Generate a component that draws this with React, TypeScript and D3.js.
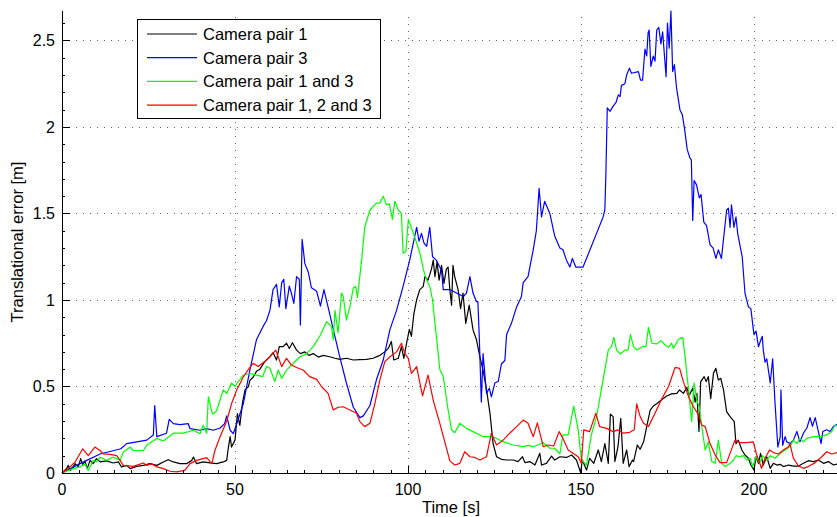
import React from 'react'
import * as d3 from 'd3'

const width = 837
const height = 517
const margin = { top: 11, right: 0, bottom: 44, left: 62 }

// tick values
const xTicks = [0, 50, 100, 150, 200]
const yTicks = [0, 0.5, 1, 1.5, 2, 2.5]
const xMax = 224
const yMax = 2.67

const seriesNames = ['Camera pair 1', 'Camera pair 3', 'Camera pair 1 and 3', 'Camera pair 1, 2 and 3']
const seriesColors = ['#000000', '#0000ff', '#00ff00', '#ff0000']

// [time s, error m]
const pair1 = [
  [0, 0], [1.3, 0.025], [1.8, 0.044], [2.5, 0.015], [3.8, 0.054], [4.7, 0.035], [5.4, 0.083], [6, 0.044], [6.6, 0.07], [7.3, 0.025],
  [8.1, 0.073], [9, 0.054], [10, 0.083], [11, 0.064], [12.9, 0.07], [14.8, 0.058], [16.3, 0.064], [17.2, 0.035], [18.7, 0.044], [19.7, 0.025],
  [21.6, 0.038], [23.5, 0.044], [25.4, 0.054], [27.4, 0.044], [29.3, 0.064], [30.7, 0.077], [32.2, 0.064], [34.1, 0.054], [36, 0.054],
  [37.5, 0.073], [38, 0.092], [38.9, 0.054], [40.8, 0.064], [42.8, 0.058], [44.7, 0.054], [46.6, 0.064], [47.6, 0.073], [48.1, 0.15],
  [48.6, 0.21], [49, 0.15], [50, 0.19], [50.7, 0.343], [51.4, 0.275], [52.2, 0.41], [52.9, 0.48], [53.9, 0.5], [54.3, 0.535], [55.3, 0.555],
  [56.3, 0.59], [57.2, 0.6], [58.6, 0.644], [60.1, 0.672], [61, 0.696], [62, 0.653], [62.8, 0.73], [63.9, 0.73], [64.9, 0.75], [65.7, 0.72],
  [66.6, 0.753], [67.8, 0.71], [68.9, 0.69], [70.2, 0.7], [71.4, 0.68], [72.6, 0.69], [74.1, 0.67], [75.5, 0.68], [77.4, 0.672], [78.9, 0.663],
  [80.3, 0.657], [82.2, 0.663], [84.2, 0.653], [86.1, 0.655], [88, 0.657], [89.9, 0.663], [91.9, 0.68], [93.3, 0.7], [94.3, 0.72], [95.2, 0.76],
  [95.9, 0.653], [97.2, 0.663], [98.1, 0.73], [98.8, 0.663], [99.6, 0.75], [100.4, 0.83], [101, 0.79], [101.7, 0.92], [102.5, 1.0],
  [103.4, 1.06], [104.4, 1.077], [104.9, 1.135], [105.8, 1.115], [106.8, 1.18], [107.3, 1.23], [107.8, 1.135], [108.4, 1.22], [109, 1.115],
  [109.7, 1.2], [110.4, 1.096], [111.1, 1.18], [111.6, 1.19], [112.1, 1.058], [112.6, 0.97], [113, 1.2], [113.5, 1.135], [114.5, 1.058],
  [115.2, 0.95], [115.9, 1.04], [116.7, 0.865], [117.7, 0.97], [118.8, 0.827], [119.8, 0.77], [120.8, 0.67], [121.7, 0.595], [122.7, 0.48],
  [123.7, 0.345], [124.6, 0.17], [125.6, 0.094], [127, 0.079], [128.5, 0.075], [130.4, 0.075], [131.8, 0.066], [133.1, 0.094], [133.8, 0.06],
  [135.2, 0.066], [136.7, 0.046], [138.1, 0.114], [138.6, 0.046], [140, 0.056], [141.5, 0.098], [142.4, 0.075], [143.9, 0.094], [145.8, 0.09],
  [147.3, 0.104], [148.7, 0.075], [149.9, 0.002], [150.4, 0.075], [151.6, 0.017], [152.5, 0.085], [153.7, 0.056], [155, 0.133], [155.9, 0.066],
  [156.9, 0.17], [157.9, 0.056], [158.5, 0.34], [159.3, 0.326], [159.8, 0.066], [160.7, 0.152], [161.5, 0.316], [162.2, 0.056], [163.2, 0.133],
  [163.9, 0.037], [164.9, 0.075], [165.2, 0.066], [166.3, 0.162], [167.1, 0.137], [168.1, 0.18], [169, 0.268], [170, 0.364], [170.9, 0.387],
  [171.9, 0.4], [173.4, 0.425], [174.8, 0.445], [176.2, 0.457], [177.7, 0.46], [178.5, 0.48], [179.6, 0.46], [180.6, 0.495], [181.3, 0.45],
  [182.3, 0.49], [183, 0.41], [183.5, 0.46], [184.1, 0.24], [184.6, 0.528], [185.6, 0.557], [186.2, 0.528], [186.8, 0.557], [187.5, 0.43],
  [188.3, 0.576], [189, 0.605], [189.7, 0.537], [190.4, 0.547], [191.2, 0.48], [192.1, 0.355], [193.1, 0.326], [194.3, 0.297], [194.8, 0.17],
  [195.5, 0.19], [196.5, 0.133], [197.4, 0.104], [198.4, 0.085], [199.1, 0.046], [200, 0.017], [200.6, 0.094], [201.3, 0.056], [201.9, 0.114],
  [202.7, 0.046], [203.7, 0.094], [204.7, 0.027], [205.6, 0.056], [206.6, 0.046], [207.6, 0.05], [208.5, 0.037], [210, 0.046], [211.4, 0.04],
  [212.9, 0.04], [214.3, 0.056], [215.7, 0.071], [217.2, 0.066], [218.6, 0.075], [220.1, 0.056], [221.5, 0.066], [223, 0.046], [224, 0.052],
]

const pair3 = [
  [0, 0], [5.2, 0.054], [11, 0.11], [17, 0.14], [18.7, 0.17], [24.5, 0.19], [26.4, 0.22], [26.8, 0.39], [27.4, 0.21], [30.2, 0.23], [31, 0.31],
  [32.2, 0.285], [34.1, 0.28], [36.5, 0.285], [37, 0.256], [39.9, 0.247], [41.8, 0.256], [43.7, 0.247], [45.7, 0.26], [47, 0.285], [47.6, 0.33],
  [48.6, 0.247], [49.5, 0.227], [50.5, 0.285], [52.4, 0.4], [54.3, 0.595], [56.2, 0.77], [58.2, 0.85], [59.1, 0.88], [60.1, 0.94], [61, 1.06],
  [62, 1.09], [62.8, 0.96], [63.5, 1.1], [64.1, 1.12], [64.7, 0.95], [65.7, 1.08], [66.3, 1.04], [67, 0.98], [67.8, 1.135], [68.6, 1.12],
  [68.9, 0.855], [69.4, 1.35], [70.2, 1.21], [71.2, 1.16], [72.1, 1.07], [73.6, 1.05], [74.7, 0.965], [75.7, 1.06], [76.9, 0.96], [78.4, 0.83],
  [80.3, 0.67], [82.2, 0.52], [84.2, 0.38], [86.1, 0.32], [87.1, 0.33], [89, 0.39], [90.9, 0.54], [92.8, 0.65], [94.8, 0.83], [96.7, 0.94],
  [98.6, 1.08], [100.5, 1.23], [102.5, 1.42], [103.2, 1.34], [103.9, 1.385], [104.6, 1.33], [105.4, 1.31], [106.3, 1.42], [107.1, 1.25],
  [108.2, 1.23], [109.7, 1.17], [110.2, 1.06], [112.1, 1.06], [114, 1.04], [116, 1.02], [116.9, 1.04], [117.9, 1.135], [118.8, 1.04],
  [119.8, 0.99], [120.2, 0.99], [120.6, 0.79], [121.2, 0.41], [121.7, 0.69], [122.7, 0.46], [123.5, 0.49], [124.1, 0.44], [125.1, 0.52],
  [126.1, 0.53], [127, 0.63], [128, 0.65], [128.5, 0.8], [129.9, 0.865], [131.4, 0.96], [132.8, 1.02], [133.3, 1.1], [134.7, 1.135],
  [136.2, 1.29], [137.1, 1.4], [137.9, 1.645], [138.6, 1.48], [139.5, 1.57], [141, 1.5], [142.4, 1.37], [143.9, 1.3], [144.8, 1.29],
  [145.8, 1.23], [146.8, 1.19], [147.5, 1.24], [148.5, 1.19], [150.6, 1.19], [152.6, 1.29], [154.5, 1.385], [156.4, 1.48], [156.9, 1.52],
  [157.2, 1.73], [157.6, 2.11], [158.4, 2.09], [159.3, 2.12], [160.1, 2.14], [160.8, 2.185], [161.3, 2.175], [161.7, 2.24], [162.7, 2.25],
  [163.2, 2.3], [164, 2.34], [164.6, 2.31], [166.6, 2.32], [167.2, 2.27], [167.8, 2.27], [168.5, 2.45], [169, 2.41], [169.4, 2.545],
  [169.7, 2.56], [170.2, 2.35], [170.9, 2.41], [171.4, 2.38], [171.9, 2.56], [172.5, 2.575], [173.1, 2.48], [173.6, 2.55], [174.6, 2.29],
  [175, 2.6], [175.5, 2.455], [176, 2.67], [176.5, 2.32], [177, 2.36], [177.6, 2.23], [178.6, 2.1], [179.3, 2.07], [180, 1.98], [180.7, 1.87],
  [181.5, 1.82], [181.9, 1.81], [182.3, 1.46], [182.7, 1.69], [183.4, 1.665], [184.2, 1.59], [184.7, 1.61], [185.5, 1.45], [186.3, 1.43],
  [187.3, 1.32], [188.2, 1.3], [189, 1.24], [189.7, 1.29], [190.6, 1.24], [192.1, 1.52], [192.6, 1.53], [193.1, 1.42], [193.5, 1.55],
  [194.2, 1.42], [194.8, 1.48], [195.3, 1.385], [196, 1.31], [196.6, 1.25], [197.4, 1.04], [198.4, 0.96], [199.1, 0.95], [200, 0.8],
  [200.6, 0.82], [201.3, 0.73], [202, 0.77], [202.4, 0.79], [202.7, 0.71], [203.2, 0.64], [203.7, 0.66], [204.7, 0.52], [205.4, 0.66],
  [206.1, 0.4], [206.9, 0.15], [207.6, 0.21], [207.8, 0.48], [208.3, 0.16], [209, 0.21], [209.5, 0.18], [210.4, 0.17], [211.4, 0.19],
  [212.4, 0.24], [213.3, 0.18], [214.3, 0.23], [215.3, 0.26], [216.2, 0.32], [216.9, 0.27], [217.7, 0.32], [218.6, 0.24], [219.4, 0.17],
  [219.9, 0.24], [221, 0.25], [222, 0.24], [223, 0.27], [224, 0.28],
]

const pair13 = [
  [0, 0], [3.3, 0.025], [5.2, 0.035], [6.6, 0.054], [7.6, 0.015], [9, 0.073], [10, 0.064], [11, 0.092], [12.9, 0.073], [14.8, 0.092],
  [16.8, 0.073], [17.7, 0.12], [19.7, 0.15], [20.6, 0.13], [23.5, 0.13], [24.5, 0.16], [27.4, 0.2], [29.3, 0.185], [32.2, 0.23], [35, 0.23],
  [38, 0.247], [39.9, 0.227], [40.8, 0.276], [41.8, 0.23], [42.3, 0.44], [43.5, 0.34], [44.7, 0.36], [46.6, 0.48], [47.6, 0.46], [49, 0.52],
  [50, 0.5], [51, 0.53], [52.4, 0.565], [54.3, 0.575], [56.2, 0.566], [58, 0.557], [59.1, 0.615], [60.1, 0.605], [61.5, 0.528], [62.5, 0.595],
  [63.5, 0.547], [64.9, 0.595], [66.8, 0.634], [68.8, 0.672], [70.7, 0.69], [72.6, 0.73], [74.5, 0.79], [76.5, 0.875], [77.9, 0.846],
  [78.4, 0.77], [78.9, 0.94], [79.8, 0.81], [80.8, 1.04], [81.3, 1.02], [82.2, 0.884], [83.2, 0.96], [84.2, 1.07], [84.9, 1.077],
  [85.4, 1.015], [86.6, 1.23], [87.5, 1.42], [89, 1.52], [90.9, 1.56], [91.9, 1.56], [92.8, 1.6], [93.8, 1.55], [94.6, 1.555], [95.5, 1.466],
  [96.2, 1.57], [97.2, 1.52], [98.1, 1.5], [98.6, 1.27], [99.4, 1.28], [100.1, 1.466], [101.3, 1.4], [102.5, 1.33], [103.6, 1.26],
  [104.4, 1.18], [105.4, 1.115], [106.3, 1.077], [107.1, 1.0], [108.2, 0.79], [109.2, 0.6], [110.2, 0.557], [111.6, 0.364], [112.6, 0.249],
  [113.5, 0.233], [115, 0.287], [116.9, 0.258], [118.8, 0.239], [121.7, 0.21], [124.6, 0.21], [127.5, 0.181], [130.4, 0.162], [133.3, 0.152],
  [134.7, 0.16], [136.2, 0.152], [139.1, 0.175], [141, 0.143], [142.4, 0.143], [143.9, 0.11], [144.8, 0.22], [146.3, 0.22], [147.9, 0.387],
  [149.2, 0.249], [150.1, 0.075], [151.6, 0.046], [153, 0.22], [154.5, 0.325], [156.4, 0.54], [157.9, 0.71], [158.8, 0.73], [159.5, 0.784],
  [160.3, 0.71], [161.4, 0.688], [162.7, 0.71], [163.6, 0.71], [164.3, 0.8], [165.2, 0.73], [166.1, 0.71], [168.1, 0.734], [168.8, 0.73],
  [169.5, 0.842], [170.5, 0.75], [171.9, 0.746], [173.1, 0.765], [174.3, 0.74], [175.3, 0.726], [176.2, 0.75], [176.7, 0.72], [178.2, 0.773],
  [179.4, 0.784], [180.1, 0.67], [181.1, 0.48], [182, 0.297], [182.7, 0.52], [183.5, 0.42], [184.2, 0.38], [184.9, 0.27], [185.9, 0.133],
  [186.8, 0.18], [187.8, 0.066], [188.8, 0.056], [189.7, 0.19], [190.7, 0.056], [191.7, 0.037], [193.1, 0.056], [194.1, 0.075], [194.8, 0.1],
  [195.8, 0.094], [197, 0.1], [197.9, 0.075], [198.9, 0.085], [199.6, 0.037], [200.6, 0.094], [201.6, 0.056], [202.5, 0.1], [203.7, 0.075],
  [204.7, 0.1], [206.1, 0.085], [207.6, 0.114], [209, 0.133], [210.4, 0.152], [211.4, 0.19], [212.4, 0.17], [213.3, 0.2], [214.3, 0.18],
  [215.3, 0.2], [217.2, 0.21], [219.1, 0.21], [221, 0.22], [222.5, 0.24], [223.4, 0.277], [224, 0.27],
]

const pair123 = [
  [0, 0], [2.3, 0.035], [3.8, 0.064], [6, 0.14], [7.6, 0.1], [9.5, 0.15], [11, 0.13], [11.9, 0.11], [13.9, 0.108], [15.8, 0.1], [16.8, 0.073],
  [17.7, 0.044], [20.6, 0.038], [23.5, 0.058], [24.5, 0.044], [25.9, 0.054], [27.4, 0.035], [29.3, 0.025], [31.2, 0.01], [33.1, 0.006],
  [35.5, 0.015], [37, 0.054], [38.9, 0.073], [41.8, 0.089], [43.3, 0.054], [44.2, 0.13], [45.7, 0.21], [47.6, 0.3], [49, 0.4], [50.5, 0.48],
  [52.4, 0.555], [54.3, 0.61], [55.3, 0.634], [56.7, 0.615], [58.6, 0.644], [60.1, 0.672], [61.8, 0.71], [63.5, 0.615], [64.9, 0.663],
  [66.3, 0.624], [67.8, 0.61], [69.7, 0.595], [71.6, 0.557], [73.6, 0.541], [75, 0.5], [76.9, 0.46], [78.4, 0.364], [79.8, 0.38], [81.3, 0.383],
  [83.2, 0.364], [85.1, 0.345], [86.1, 0.297], [87.5, 0.268], [89, 0.287], [90.4, 0.4], [91.9, 0.54], [93.3, 0.644], [94.8, 0.672], [96.7, 0.7],
  [98.1, 0.75], [99.1, 0.69], [100.1, 0.663], [101, 0.576], [102.5, 0.615], [104.2, 0.445], [105.8, 0.566], [107.3, 0.42], [109.2, 0.287],
  [110.7, 0.175], [112.1, 0.07], [113.5, 0.046], [115, 0.056], [116.4, 0.123], [117.9, 0.094], [119.3, 0.09], [120.8, 0.075], [122.7, 0.094],
  [124.1, 0.23], [125.6, 0.162], [127.5, 0.19], [129.4, 0.23], [131.4, 0.268], [133.3, 0.306], [134.7, 0.287], [136.2, 0.21], [137.4, 0.29],
  [139.1, 0.152], [140.5, 0.162], [142.1, 0.156], [143.7, 0.239], [144.8, 0.2], [146.3, 0.133], [147.7, 0.114], [149.2, 0.094], [150.1, 0.056],
  [150.8, 0.249], [152.5, 0.239], [154.3, 0.345], [155.4, 0.268], [157.4, 0.258], [159.3, 0.239], [160.7, 0.249], [162.2, 0.23], [164.1, 0.235],
  [165.4, 0.25], [166.1, 0.4], [167.1, 0.326], [168.1, 0.287], [169.5, 0.268], [171.4, 0.345], [173.4, 0.43], [175.3, 0.5], [177.2, 0.61],
  [178.5, 0.605], [179.6, 0.528], [181.1, 0.44], [182.5, 0.383], [184, 0.335], [184.9, 0.277], [185.9, 0.268], [187.3, 0.17], [188.8, 0.104],
  [190.2, 0.06], [192.1, 0.06], [194.5, 0.19], [196, 0.175], [197.9, 0.175], [199.8, 0.18], [200.8, 0.104], [202.2, 0.027], [203.2, 0.085],
  [204.5, 0.133], [205.6, 0.118], [207.1, 0.11], [208.5, 0.133], [210, 0.152], [210.4, 0.17], [211.4, 0.085], [212.9, 0.04], [214.3, 0.027],
  [215.7, 0.037], [217.7, 0.06], [219.6, 0.094], [221, 0.123], [222.5, 0.11], [224, 0.118],
]

const allSeries = [pair1, pair3, pair13, pair123]

const font = '"Liberation Sans", Arial, Helvetica, sans-serif'

export default function App() {
  const x = d3.scaleLinear().domain([0, xMax]).range([margin.left, width - margin.right])
  const y = d3.scaleLinear().domain([0, yMax]).range([height - margin.bottom, margin.top])

  const line = d3
    .line<number[]>()
    .x((d) => x(d[0]))
    .y((d) => y(d[1]))

  const x0 = x(0)
  const y0 = y(0)
  const xMinor = d3.range(0, xMax + 0.01, 5)
  const yMinor = d3.range(0, yMax + 0.001, 0.1)

  return (
    <svg
      width={width}
      height={height}
      style={{ position: 'absolute', left: 0, top: 0, background: '#fff' }}
      fontFamily={font}
    >
      <rect x={0} y={0} width={width} height={height} fill="#fff" />

      {/* grid */}
      <g stroke="#666" strokeWidth={1} strokeDasharray="1,6">
        {xTicks.filter((t) => t > 0).map((t) => (
          <line key={'gx' + t} x1={Math.round(x(t)) + 0.5} x2={Math.round(x(t)) + 0.5} y1={y0} y2={margin.top} />
        ))}
        {yTicks.filter((t) => t > 0).map((t) => (
          <line key={'gy' + t} x1={x0} x2={width} y1={Math.round(y(t)) + 0.5} y2={Math.round(y(t)) + 0.5} />
        ))}
      </g>

      {/* data lines */}
      <g fill="none" strokeWidth={1.2} strokeLinejoin="round">
        {allSeries.map((s, i) => (
          <path key={i} d={line(s as number[][]) || ''} stroke={seriesColors[i]} />
        ))}
      </g>

      {/* axes */}
      <g stroke="#000" strokeWidth={1}>
        <line x1={x0 + 0.5} x2={x0 + 0.5} y1={margin.top} y2={y0 + 0.5} />
        <line x1={x0} x2={width} y1={Math.round(y0) + 0.5} y2={Math.round(y0) + 0.5} />
        {xMinor.map((t) => (
          <line key={'mx' + t} x1={Math.round(x(t)) + 0.5} x2={Math.round(x(t)) + 0.5} y1={y0} y2={y0 - 3} />
        ))}
        {yMinor.map((t) => (
          <line key={'my' + t} x1={x0} x2={x0 + 3} y1={Math.round(y(t)) + 0.5} y2={Math.round(y(t)) + 0.5} />
        ))}
        {xTicks.map((t) => (
          <line key={'tx' + t} x1={Math.round(x(t)) + 0.5} x2={Math.round(x(t)) + 0.5} y1={y0} y2={y0 - 7} />
        ))}
        {yTicks.map((t) => (
          <line key={'ty' + t} x1={x0} x2={x0 + 8} y1={Math.round(y(t)) + 0.5} y2={Math.round(y(t)) + 0.5} />
        ))}
      </g>

      {/* tick labels */}
      <g fontSize={16} fill="#000">
        {xTicks.map((t) => (
          <text key={'lx' + t} x={x(t)} y={y0 + 22} textAnchor="middle">
            {t}
          </text>
        ))}
        {yTicks.map((t) => (
          <text key={'ly' + t} x={x0 - 7} y={y(t) + 6} textAnchor="end">
            {t}
          </text>
        ))}
      </g>

      {/* axis titles */}
      <text x={451} y={513} fontSize={16.5} textAnchor="middle">
        Time [s]
      </text>
      <text transform={`translate(23,${(margin.top + y0) / 2}) rotate(-90)`} fontSize={16.5} textAnchor="middle">
        Translational error [m]
      </text>

      {/* legend */}
      <g>
        <rect x={137.5} y={19.5} width={243} height={99} fill="#fff" stroke="#000" strokeWidth={1} />
        {seriesNames.map((name, i) => {
          const ly = 34 + i * 23.7
          return (
            <g key={name}>
              <line x1={147} x2={197} y1={ly} y2={ly} stroke={seriesColors[i]} strokeWidth={1.2} />
              <text x={203} y={ly + 6} fontSize={16.5}>
                {name}
              </text>
            </g>
          )
        })}
      </g>
    </svg>
  )
}
